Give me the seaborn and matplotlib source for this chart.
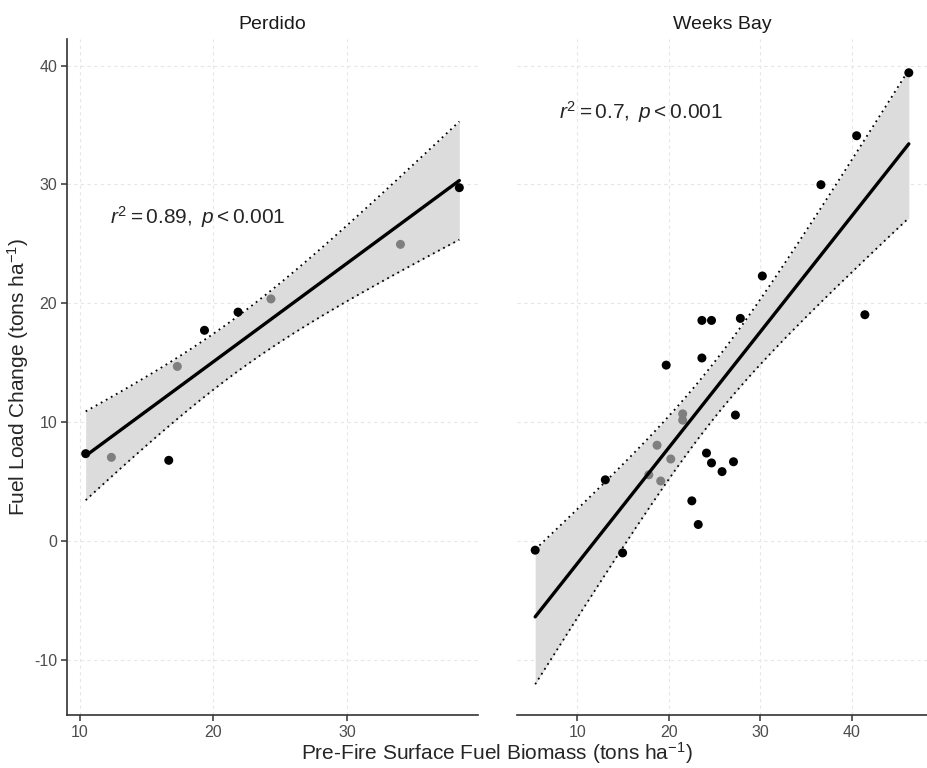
import numpy as np
import pandas as pd
import seaborn as sns
import matplotlib.pyplot as plt

# values
perdido_x = [10.45, 12.37, 16.66, 17.30, 19.33, 21.84, 24.30, 33.98, 38.38]
perdido_y = [7.35, 7.04, 6.79, 14.69, 17.73, 19.26, 20.37, 24.96, 29.73]
perdido_grp = ['A', 'B', 'A', 'B', 'A', 'A', 'B', 'B', 'A']

weeks_x = [23.60, 24.65, 27.80, 23.60, 19.70, 21.50, 21.50, 27.26, 18.70, 20.20,
           24.10, 24.65, 27.05, 25.80, 17.80, 19.10, 13.05, 22.50, 23.20, 5.39,
           14.94, 40.50, 36.60, 46.20, 41.40, 30.20]
weeks_y = [18.56, 18.56, 18.73, 15.40, 14.80, 10.70, 10.17, 10.60, 8.06, 6.90,
           7.40, 6.57, 6.67, 5.84, 5.57, 5.05, 5.15, 3.38, 1.39, -0.77,
           -1.00, 34.10, 29.98, 39.40, 19.04, 22.30]
weeks_grp = ['A', 'A', 'A', 'A', 'A', 'B', 'B', 'A', 'B', 'B',
             'A', 'A', 'A', 'A', 'B', 'B', 'A', 'A', 'A', 'A',
             'A', 'A', 'A', 'A', 'A', 'A']

sites = ['Perdido', 'Weeks Bay']
r2_labels = [r'$r^2 = 0.89,\ p < 0.001$', r'$r^2 = 0.7,\ p < 0.001$']
label_pos = [(18.84, 27.3), (16.9, 36.1)]
t_crit = {7: 2.3646, 24: 2.0639}  # 97.5% t quantiles

df = pd.concat([
    pd.DataFrame({'site': 'Perdido', 'biomass': perdido_x, 'change': perdido_y, 'grp': perdido_grp}),
    pd.DataFrame({'site': 'Weeks Bay', 'biomass': weeks_x, 'change': weeks_y, 'grp': weeks_grp}),
])

sns.set_style('white')
plt.rcParams['font.family'] = ['Liberation Sans', 'DejaVu Sans']
plt.rcParams['mathtext.fontset'] = 'custom'
plt.rcParams['mathtext.rm'] = 'Liberation Sans'
plt.rcParams['mathtext.it'] = 'Liberation Sans:italic'
plt.rcParams['axes.unicode_minus'] = False

fig = plt.figure(figsize=(9.27, 7.68), dpi=100)
ax1 = fig.add_axes([67 / 927, 53 / 768, 411 / 927, 676 / 768])
ax2 = fig.add_axes([516.5 / 927, 53 / 768, 411 / 927, 676 / 768])
axes = [ax1, ax2]


def lm_band(x, y, xs):
    x = np.asarray(x)
    y = np.asarray(y)
    n = len(x)
    b1, b0 = np.polyfit(x, y, 1)
    resid = y - (b0 + b1 * x)
    s = np.sqrt(np.sum(resid ** 2) / (n - 2))
    se = s * np.sqrt(1 / n + (xs - x.mean()) ** 2 / np.sum((x - x.mean()) ** 2))
    fit = b0 + b1 * xs
    t = t_crit[n - 2]
    return fit - t * se, fit + t * se


ymins, ymaxs = [], []
for ax, site, lab, pos in zip(axes, sites, r2_labels, label_pos):
    d = df[df.site == site]
    xs = np.linspace(d.biomass.min(), d.biomass.max(), 100)
    lo, hi = lm_band(d.biomass, d.change, xs)
    ymins.append(min(lo.min(), d.change.min()))
    ymaxs.append(max(hi.max(), d.change.max()))
    ax.fill_between(xs, lo, hi, color='#dcdcdc', lw=0, zorder=1)
    ax.plot(xs, lo, color='black', ls=(0, (1, 2.2)), lw=1.3, zorder=2)
    ax.plot(xs, hi, color='black', ls=(0, (1, 2.2)), lw=1.3, zorder=2)
    sns.scatterplot(data=d, x='biomass', y='change', hue='grp',
                    palette={'A': 'black', 'B': '#7f7f7f'}, s=42, linewidth=0,
                    legend=False, ax=ax, zorder=3)
    sns.regplot(data=d, x='biomass', y='change', scatter=False, ci=None,
                color='black', line_kws={'lw': 2.4, 'zorder': 4}, ax=ax)
    ax.text(pos[0], pos[1], lab, ha='center', va='center', fontsize=15, zorder=5)
    xr = d.biomass.max() - d.biomass.min()
    ax.set_xlim(d.biomass.min() - 0.05 * xr, d.biomass.max() + 0.05 * xr)
    ax.set_title(site, fontsize=14, pad=7, color='#1a1a1a')
    ax.set_xlabel('')
    ax.set_ylabel('')

ylo, yhi = min(ymins), max(ymaxs)
yr = yhi - ylo
for ax in axes:
    ax.set_ylim(ylo - 0.05 * yr, yhi + 0.05 * yr)
    ax.set_yticks([-10, 0, 10, 20, 30, 40])
    ax.grid(True, color='#e6e6e6', ls=(0, (3, 3)), lw=0.8, zorder=0)
    ax.set_axisbelow(True)
    for side in ['top', 'right']:
        ax.spines[side].set_visible(False)
    ax.spines['bottom'].set_color('#333333')
    ax.spines['bottom'].set_linewidth(1.2)
    ax.tick_params(axis='both', colors='#333333', labelcolor='#4d4d4d',
                   labelsize=11.5, length=4, width=1.1, pad=3, direction='out')

ax1.set_xticks([10, 20, 30])
ax2.set_xticks([10, 20, 30, 40])
ax1.spines['left'].set_color('#333333')
ax1.spines['left'].set_linewidth(1.2)
ax2.spines['left'].set_visible(False)
ax2.tick_params(axis='y', left=False, labelleft=False)
ax1.tick_params(axis='y', left=True)
ax1.tick_params(axis='x', bottom=True)
ax2.tick_params(axis='x', bottom=True)

fig.text(497 / 927, 15 / 768, r'Pre-Fire Surface Fuel Biomass (tons ha$^{-1}$)',
         ha='center', va='center', fontsize=15)
fig.text(18 / 927, 1 - 377 / 768, r'Fuel Load Change (tons ha$^{-1}$)',
         ha='center', va='center', rotation=90, fontsize=15)

fig.savefig('out.png', dpi=100)
